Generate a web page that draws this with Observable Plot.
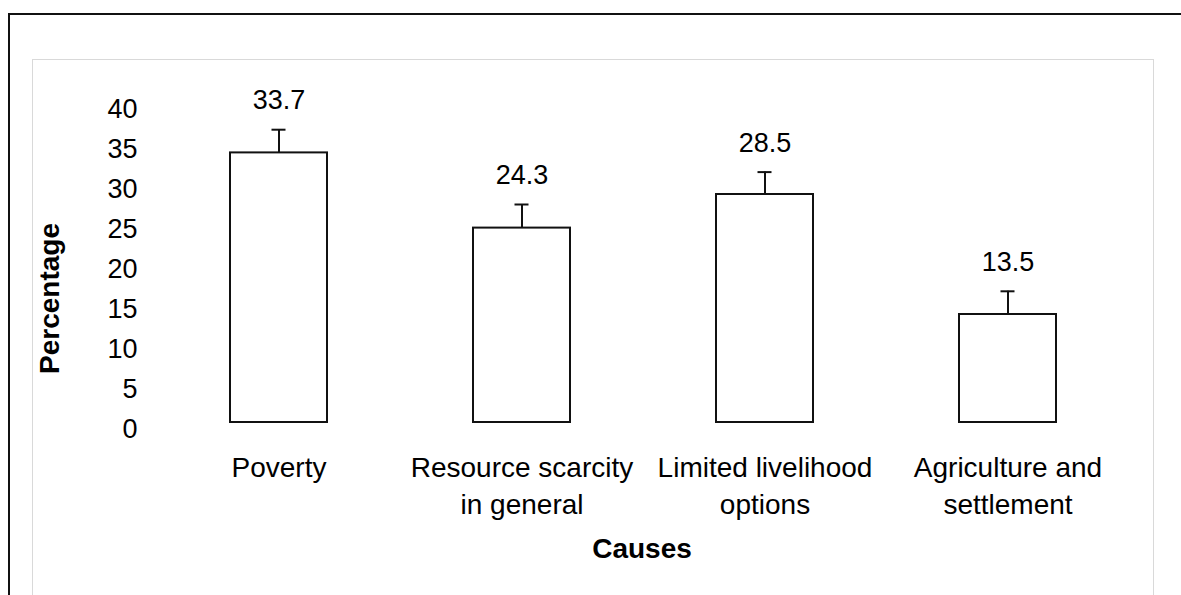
<!DOCTYPE html>
<html>
<head>
<meta charset="utf-8">
<script src="https://cdn.jsdelivr.net/npm/d3@7"></script>
<script src="https://cdn.jsdelivr.net/npm/@observablehq/plot@0.6"></script>
<style>
  html, body { margin: 0; padding: 0; background: #fff; }
  #wrap { position: relative; width: 1181px; height: 595px; overflow: hidden; font-family: "Liberation Sans", Arial, sans-serif; }
  #outer { position: absolute; left: 8px; top: 13px; width: 1200px; height: 700px; border-left: 2px solid #111; border-top: 2px solid #111; pointer-events: none; }
  #inner { position: absolute; left: 32px; top: 59px; width: 1120px; height: 700px; border: 1px solid #d9d9d9; pointer-events: none; }
  #chart { position: absolute; left: 0; top: 0; }
</style>
</head>
<body>
<div id="wrap">
  <div id="outer"></div>
  <div id="inner"></div>
  <div id="chart"></div>
</div>
<script>
const categories = ["Poverty", "Resource scarcity\nin general", "Limited livelihood\noptions", "Agriculture and\nsettlement"];
const values = [33.7, 24.3, 28.5, 13.5];
const errors = [2.9, 2.95, 2.8, 2.9];
const yTicks = [0, 5, 10, 15, 20, 25, 30, 35, 40];
const yTitle = "Percentage";
const xTitle = "Causes";

const data = categories.map((c, i) => ({cause: c, value: values[i], err: errors[i], top: values[i] + errors[i]}));
const ink = "#111";

const plot = Plot.plot({
  width: 1181,
  height: 595,
  marginLeft: 157,
  marginRight: 51,
  marginTop: 102,
  marginBottom: 173,
  style: {fontSize: "27px", fontFamily: "'Liberation Sans', Arial, sans-serif", color: "#000", background: "transparent", overflow: "visible"},
  x: {domain: categories, paddingInner: 0.6, paddingOuter: 0.3},
  y: {domain: [0, 40]},
  marks: [
    Plot.ruleX(data, {x: "cause", y1: "value", y2: "top", stroke: ink, strokeWidth: 2}),
    Plot.tickY(data, {x: "cause", y: "top", stroke: ink, strokeWidth: 2, insetLeft: 41.5, insetRight: 41.5}),
    Plot.barY(data, {x: "cause", y: "value", fill: "white", stroke: ink, strokeWidth: 2}),
    Plot.text(data, {x: "cause", y: "top", text: d => d.value.toFixed(1), dy: -29, fontSize: 27, fill: "#000"}),
    Plot.axisY({ticks: yTicks, tickSize: 0, tickPadding: 20, fontSize: 27, dy: 6.5, label: null, fill: "#000"}),
    Plot.axisX({tickSize: 0, tickPadding: 29, fontSize: 28, lineHeight: 1.3, label: null, fill: "#000"}),
    Plot.text([yTitle], {frameAnchor: "left", textAnchor: "middle", lineAnchor: "middle", dx: -107, dy: 36, rotate: -90, fontSize: 28, fontWeight: "bold", fill: "#000"}),
    Plot.text([xTitle], {frameAnchor: "bottom", dx: -2, dy: 135, fontSize: 28, fontWeight: "bold", fill: "#000"})
  ]
});
document.getElementById("chart").appendChild(plot);
</script>
</body>
</html>
